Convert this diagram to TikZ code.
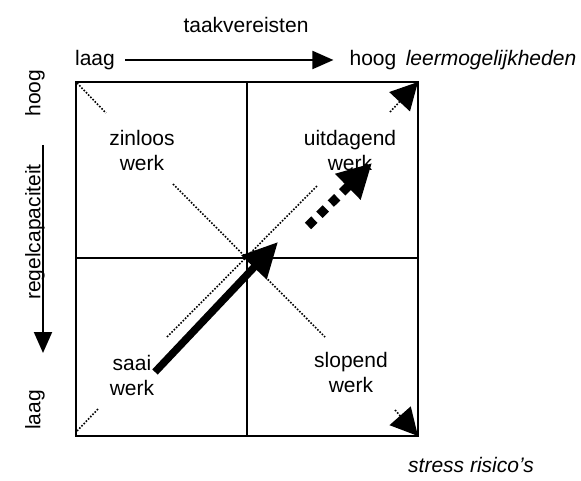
\documentclass[tikz,border=0pt]{standalone}
\usepackage{fontspec}
\setmainfont{Liberation Sans}
\usetikzlibrary{arrows.meta}

\begin{document}
\begin{tikzpicture}[x=1pt,y=-1pt,
	every node/.style={font=\fontsize{21}{25}\selectfont, align=center, inner sep=2pt},
	axis/.style={line width=2pt, -{Triangle[length=21pt,width=18pt]}},
	frame/.style={line width=2.5pt},
	grid/.style={line width=2pt},
	diag/.style={line width=1.6pt, dash pattern=on 1.6pt off 1.6pt},
	corner/.style={diag, -{Triangle[length=27pt,width=28pt]}},
	push/.style={line width=7.5pt, -{Triangle[length=35pt,width=33pt]}},
	nextpush/.style={line width=9pt, dash pattern=on 9pt off 7pt, -{Triangle[length=34pt,width=34pt]}}]
	\useasboundingbox (0,0) rectangle (581,481);

	% labels round the square
	\node[] (taak) at (246,25) {taakvereisten};
	\node[] (laagT) at (95,60) {laag};
	\node[] (hoogT) at (373,60) {hoog};
	\node[] (leer) at (491,60) {\itshape leermogelijkheden};
	\node[rotate=90] (hoogL) at (35,93) {hoog};
	\node[rotate=90] (regel) at (35,232) {regelcapaciteit};
	\node[rotate=90] (laagL) at (35,410) {laag};
	\node[] (stress) at (471,465) {\itshape stress risico's};

	\draw[axis, shorten <=8pt, shorten >=14pt] (laagT.east) -- (hoogT.west);
	\coordinate (vtop) at (43,145);
	\coordinate (vbot) at (43,353);
	\draw[axis] (vtop) -- (vbot);

	% the square
	\coordinate (nw) at (76,82);
	\coordinate (ne) at (418,82);
	\coordinate (sw) at (76,436);
	\coordinate (se) at (418,436);
	\coordinate (mid) at (247,258);
	\draw[frame] (nw) rectangle (se);
	\draw[grid] (247,82) -- (247,436);
	\draw[grid] (76,258) -- (418,258);

	% quadrants
	\node[] (zinloos) at (142,150) {zinloos\\werk};
	\node[] (uitdagend) at (350,150) {uitdagend\\werk};
	\node[] (saai) at (132,375) {saai\\werk};
	\node[] (slopend) at (351,372) {slopend\\werk};

	% diagonals
	\draw[diag] (77,83) -- (106,113);
	\draw[diag] (77,431) -- (99,408);
	\draw[diag] (173,184) -- (325,337);
	\draw[diag] (167,337) -- (318,185);
	\draw[corner] (390,112) -- (ne);
	\draw[corner] (395,410) -- (se);

	% direction
	\coordinate (pstart) at (155,372);
	\coordinate (ptip) at (278,242);
	\draw[push] (pstart) -- (ptip);
	\coordinate (qstart) at (308,226);
	\coordinate (qtip) at (372,163);
	\draw[nextpush] (qstart) -- (qtip);
\end{tikzpicture}
\end{document}
